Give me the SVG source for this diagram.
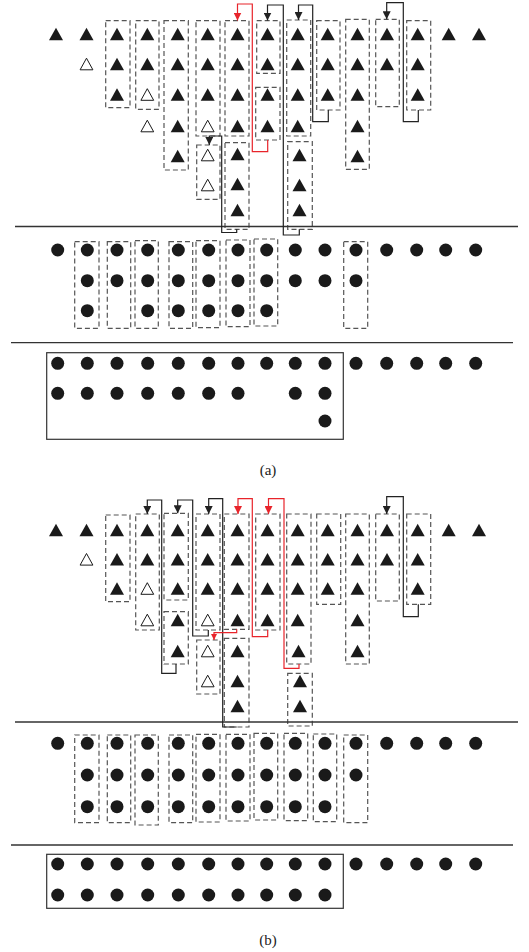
<svg xmlns="http://www.w3.org/2000/svg" xmlns:xlink="http://www.w3.org/1999/xlink" width="529" height="952" viewBox="0 0 529 952">
<style>
.tf{fill:#1a1a1a}
.th{fill:#fff;stroke:#1a1a1a;stroke-width:1}
.d{fill:#1a1a1a}
.bx{fill:none;stroke:#555;stroke-width:1.2;stroke-dasharray:5 3}
.sb{fill:none;stroke:#333;stroke-width:1.2}
.sep{stroke:#333;stroke-width:1.3}
.k{fill:none;stroke:#222;stroke-width:1.2}
.r{fill:none;stroke:#e8242b;stroke-width:1.2}
.lab{font-family:"Liberation Serif","DejaVu Serif",serif;font-size:15px;fill:#222;text-anchor:middle}
</style>
<defs>
<path id="T" d="M0,-6.3L7,6.3L-7,6.3Z"/>
<path id="H" d="M0,-5.8L6.4,5.8L-6.4,5.8Z"/>
<marker id="ak" markerUnits="userSpaceOnUse" viewBox="0 0 8 8" refX="8" refY="4" markerWidth="8" markerHeight="8" orient="auto"><path d="M0,0L8,4L0,8Z" fill="#222"/></marker>
<marker id="ar" markerUnits="userSpaceOnUse" viewBox="0 0 8 8" refX="8" refY="4" markerWidth="8" markerHeight="8" orient="auto"><path d="M0,0L8,4L0,8Z" fill="#e8242b"/></marker>
<marker id="ars" markerUnits="userSpaceOnUse" viewBox="0 0 6 6" refX="6" refY="3" markerWidth="6" markerHeight="6" orient="auto"><path d="M0,0L6,3L0,6Z" fill="#e8242b"/></marker>
</defs>

<!-- ===================== (a) ===================== -->
<g id="a-t0"><use href="#T" class="tf" x="56" y="34"/></g>
<g id="a-t1"><use href="#T" class="tf" x="86.5" y="34"/><use href="#H" class="th" x="86.5" y="64"/></g>
<g id="a-c2"><rect class="bx" x="105.7" y="20.7" width="24.3" height="87"/><use href="#T" class="tf" x="117" y="34"/><use href="#T" class="tf" x="117" y="64"/><use href="#T" class="tf" x="117" y="94.5"/></g>
<g id="a-c3"><rect class="bx" x="135.7" y="20.7" width="23.3" height="88.6"/><use href="#T" class="tf" x="147.3" y="34"/><use href="#T" class="tf" x="147.3" y="64"/><use href="#H" class="th" x="147.3" y="94.5"/></g>
<g id="a-t3"><use href="#H" class="th" x="147.3" y="126"/></g>
<g id="a-c4"><rect class="bx" x="164" y="20.7" width="24.3" height="149.3"/><use href="#T" class="tf" x="177.7" y="34"/><use href="#T" class="tf" x="177.7" y="64"/><use href="#T" class="tf" x="177.7" y="94.5"/><use href="#T" class="tf" x="177.7" y="126"/><use href="#T" class="tf" x="177.7" y="156"/></g>
<g id="a-c5u"><rect class="bx" x="196" y="20.7" width="24" height="115.3"/><use href="#T" class="tf" x="207.7" y="34"/><use href="#T" class="tf" x="207.7" y="64"/><use href="#T" class="tf" x="207.7" y="94.5"/><use href="#H" class="th" x="207.7" y="126"/></g>
<g id="a-c5l"><rect class="bx" x="196.7" y="145" width="23.3" height="54.3"/><use href="#H" class="th" x="207.7" y="155"/><use href="#H" class="th" x="207.7" y="185"/></g>
<g id="a-c6u"><rect class="bx" x="225" y="20.7" width="24" height="115.3"/><use href="#T" class="tf" x="237.5" y="34"/><use href="#T" class="tf" x="237.5" y="64"/><use href="#T" class="tf" x="237.5" y="94.5"/><use href="#T" class="tf" x="237.5" y="126"/></g>
<g id="a-c6l"><rect class="bx" x="225" y="142.7" width="24" height="86.6"/><use href="#T" class="tf" x="237.5" y="154"/><use href="#T" class="tf" x="237.5" y="184"/><use href="#T" class="tf" x="237.5" y="210"/></g>
<g id="a-c7u"><rect class="bx" x="256.7" y="20.7" width="23.3" height="52.6"/><use href="#T" class="tf" x="267.5" y="34"/><use href="#T" class="tf" x="267.5" y="64"/></g>
<g id="a-c7l"><rect class="bx" x="255.7" y="87.3" width="24.3" height="52.7"/><use href="#T" class="tf" x="267.5" y="94.5"/><use href="#T" class="tf" x="267.5" y="126"/></g>
<g id="a-c8u"><rect class="bx" x="286.7" y="20" width="24" height="116"/><use href="#T" class="tf" x="297.7" y="34"/><use href="#T" class="tf" x="297.7" y="64"/><use href="#T" class="tf" x="297.7" y="94.5"/><use href="#T" class="tf" x="297.7" y="126"/></g>
<g id="a-c8l"><rect class="bx" x="287.7" y="141.7" width="24.6" height="87.6"/><use href="#T" class="tf" x="299.5" y="155"/><use href="#T" class="tf" x="299.5" y="185"/><use href="#T" class="tf" x="299.5" y="210"/></g>
<g id="a-c9"><rect class="bx" x="316.7" y="20.7" width="23.3" height="89.3"/><use href="#T" class="tf" x="327.7" y="34"/><use href="#T" class="tf" x="327.7" y="64"/><use href="#T" class="tf" x="327.7" y="94.5"/></g>
<g id="a-c10"><rect class="bx" x="345.7" y="19.3" width="23.6" height="150"/><use href="#T" class="tf" x="357.5" y="34"/><use href="#T" class="tf" x="357.5" y="64"/><use href="#T" class="tf" x="357.5" y="94.5"/><use href="#T" class="tf" x="357.5" y="126"/><use href="#T" class="tf" x="357.5" y="156"/></g>
<g id="a-c11"><rect class="bx" x="375.7" y="19.3" width="23.6" height="87.4"/><use href="#T" class="tf" x="387" y="34"/><use href="#T" class="tf" x="387" y="64"/></g>
<g id="a-c12"><rect class="bx" x="406.7" y="20.7" width="24" height="89.3"/><use href="#T" class="tf" x="417.7" y="34"/><use href="#T" class="tf" x="417.7" y="64"/><use href="#T" class="tf" x="417.7" y="94.5"/></g>
<g id="a-t13"><use href="#T" class="tf" x="448.7" y="34"/></g>
<g id="a-t14"><use href="#T" class="tf" x="479" y="34"/></g>

<g id="a-separators">
<line class="sep" x1="15" y1="226.5" x2="518" y2="226.5"/>
<line class="sep" x1="11" y1="342.7" x2="513" y2="342.7"/>
</g>

<g id="a-m0"><circle class="d" cx="57.7" cy="250" r="6.5"/></g>
<g id="a-m1"><rect class="bx" x="74.7" y="241.7" width="24.3" height="86.6"/><circle class="d" cx="87.3" cy="250" r="6.5"/><circle class="d" cx="87.3" cy="280.7" r="6.5"/><circle class="d" cx="87.3" cy="310.7" r="6.5"/></g>
<g id="a-m2"><rect class="bx" x="107.3" y="241.7" width="23.4" height="86.6"/><circle class="d" cx="117" cy="250" r="6.5"/><circle class="d" cx="117" cy="280.7" r="6.5"/></g>
<g id="a-m3"><rect class="bx" x="135" y="240.7" width="23.3" height="87.6"/><circle class="d" cx="147.7" cy="250" r="6.5"/><circle class="d" cx="147.7" cy="280.7" r="6.5"/><circle class="d" cx="147.7" cy="310.7" r="6.5"/></g>
<g id="a-m4"><rect class="bx" x="169" y="241.7" width="23.7" height="86.6"/><circle class="d" cx="178.3" cy="250" r="6.5"/><circle class="d" cx="178.3" cy="280.7" r="6.5"/><circle class="d" cx="178.3" cy="310.7" r="6.5"/></g>
<g id="a-m5"><rect class="bx" x="196" y="240.7" width="24" height="87"/><circle class="d" cx="208.7" cy="250" r="6.5"/><circle class="d" cx="208.7" cy="280.7" r="6.5"/><circle class="d" cx="208.7" cy="310.7" r="6.5"/></g>
<g id="a-m6"><rect class="bx" x="226" y="240" width="24" height="86.7"/><circle class="d" cx="238" cy="250" r="6.5"/><circle class="d" cx="238" cy="280.7" r="6.5"/><circle class="d" cx="238" cy="310.7" r="6.5"/></g>
<g id="a-m7"><rect class="bx" x="254" y="239" width="23.7" height="87"/><circle class="d" cx="266.7" cy="250" r="6.5"/><circle class="d" cx="266.7" cy="280.7" r="6.5"/><circle class="d" cx="266.7" cy="310.7" r="6.5"/></g>
<g id="a-m8"><circle class="d" cx="295.3" cy="250" r="6.5"/><circle class="d" cx="295.3" cy="280.7" r="6.5"/></g>
<g id="a-m9"><circle class="d" cx="325" cy="250" r="6.5"/><circle class="d" cx="325" cy="280.7" r="6.5"/></g>
<g id="a-m10"><rect class="bx" x="343.7" y="241.7" width="24" height="86.6"/><circle class="d" cx="356" cy="250" r="6.5"/><circle class="d" cx="356" cy="280.7" r="6.5"/></g>
<g id="a-m11"><circle class="d" cx="386.7" cy="250" r="6.5"/></g>
<g id="a-m12"><circle class="d" cx="416.7" cy="250" r="6.5"/></g>
<g id="a-m13"><circle class="d" cx="445.7" cy="250" r="6.5"/></g>
<g id="a-m14"><circle class="d" cx="475.7" cy="250" r="6.5"/></g>

<g id="a-store">
<rect class="sb" x="46.7" y="352.7" width="296.6" height="86.6"/>
<circle class="d" cx="57.7" cy="363.3" r="6.5"/><circle class="d" cx="87.3" cy="363.3" r="6.5"/><circle class="d" cx="117" cy="363.3" r="6.5"/><circle class="d" cx="147.7" cy="363.3" r="6.5"/><circle class="d" cx="178.3" cy="363.3" r="6.5"/><circle class="d" cx="208.7" cy="363.3" r="6.5"/><circle class="d" cx="238" cy="363.3" r="6.5"/><circle class="d" cx="266.7" cy="363.3" r="6.5"/><circle class="d" cx="295.3" cy="363.3" r="6.5"/><circle class="d" cx="325" cy="363.3" r="6.5"/>
<circle class="d" cx="57.7" cy="393.3" r="6.5"/><circle class="d" cx="87.3" cy="393.3" r="6.5"/><circle class="d" cx="117" cy="393.3" r="6.5"/><circle class="d" cx="147.7" cy="393.3" r="6.5"/><circle class="d" cx="178.3" cy="393.3" r="6.5"/><circle class="d" cx="208.7" cy="393.3" r="6.5"/><circle class="d" cx="238" cy="393.3" r="6.5"/><circle class="d" cx="295.3" cy="393.3" r="6.5"/><circle class="d" cx="325" cy="393.3" r="6.5"/>
<circle class="d" cx="325" cy="421" r="6.5"/>
</g>
<g id="a-rest"><circle class="d" cx="356" cy="363.3" r="6.5"/><circle class="d" cx="386.7" cy="363.3" r="6.5"/><circle class="d" cx="416.7" cy="363.3" r="6.5"/><circle class="d" cx="445.7" cy="363.3" r="6.5"/><circle class="d" cx="475.7" cy="363.3" r="6.5"/></g>

<g id="a-connectors">
<path class="k" d="M236.7,229.3V232.5H221.7V136H209.3V145" marker-end="url(#ak)"/>
<path class="r" d="M267.7,140V151.7H252.3V4H237.5V20.5" marker-end="url(#ar)"/>
<path class="k" d="M299.3,229.3V235H283.3V5H267.5V20.5" marker-end="url(#ak)"/>
<path class="k" d="M328.3,110V121.7H312.7V5H298.5V20" marker-end="url(#ak)"/>
<path class="k" d="M418.3,110V121.7H403.3V2.7H386.7V19.3" marker-end="url(#ak)"/>
</g>

<text class="lab" x="268" y="475">(a)</text>

<!-- ===================== (b) ===================== -->
<g id="b-t0"><use href="#T" class="tf" x="56" y="530"/></g>
<g id="b-t1"><use href="#T" class="tf" x="86.5" y="530"/><use href="#H" class="th" x="86.5" y="559.3"/></g>
<g id="b-c2"><rect class="bx" x="105.7" y="515" width="24.3" height="86.7"/><use href="#T" class="tf" x="117" y="530"/><use href="#T" class="tf" x="117" y="559.3"/><use href="#T" class="tf" x="117" y="588.5"/></g>
<g id="b-c3"><rect class="bx" x="135.7" y="514" width="23.6" height="116"/><use href="#T" class="tf" x="147.3" y="530"/><use href="#T" class="tf" x="147.3" y="559.3"/><use href="#H" class="th" x="147.3" y="588.5"/><use href="#H" class="th" x="147.3" y="620"/></g>
<g id="b-c4u"><rect class="bx" x="164" y="513.3" width="24.3" height="86.7"/><use href="#T" class="tf" x="177.7" y="530"/><use href="#T" class="tf" x="177.7" y="559.3"/><use href="#T" class="tf" x="177.7" y="588.5"/></g>
<g id="b-c4l"><rect class="bx" x="164" y="611.7" width="24.3" height="52.3"/><use href="#T" class="tf" x="177.7" y="620"/><use href="#T" class="tf" x="177.7" y="651"/></g>
<g id="b-c5u"><rect class="bx" x="196" y="514" width="24" height="116"/><use href="#T" class="tf" x="207.7" y="530"/><use href="#T" class="tf" x="207.7" y="559.3"/><use href="#T" class="tf" x="207.7" y="588.5"/><use href="#H" class="th" x="207.7" y="620"/></g>
<g id="b-c5l"><rect class="bx" x="196.7" y="640" width="23.3" height="54"/><use href="#H" class="th" x="207.7" y="651"/><use href="#H" class="th" x="207.7" y="681"/></g>
<g id="b-c6u"><rect class="bx" x="224.3" y="514" width="24.7" height="115.3"/><use href="#T" class="tf" x="237.5" y="530"/><use href="#T" class="tf" x="237.5" y="559.3"/><use href="#T" class="tf" x="237.5" y="588.5"/><use href="#T" class="tf" x="237.5" y="620"/></g>
<g id="b-c6l"><rect class="bx" x="224.3" y="638.3" width="24.7" height="88.7"/><use href="#T" class="tf" x="237.5" y="651"/><use href="#T" class="tf" x="237.5" y="681"/><use href="#T" class="tf" x="237.5" y="706"/></g>
<g id="b-c7"><rect class="bx" x="255.7" y="514" width="24.3" height="116"/><use href="#T" class="tf" x="267.5" y="530"/><use href="#T" class="tf" x="267.5" y="559.3"/><use href="#T" class="tf" x="267.5" y="588.5"/><use href="#T" class="tf" x="267.5" y="620"/></g>
<g id="b-c8u"><rect class="bx" x="286.7" y="514" width="24.3" height="150"/><use href="#T" class="tf" x="297.7" y="530"/><use href="#T" class="tf" x="297.7" y="559.3"/><use href="#T" class="tf" x="297.7" y="588.5"/><use href="#T" class="tf" x="297.7" y="620"/><use href="#T" class="tf" x="298.5" y="651"/></g>
<g id="b-c8l"><rect class="bx" x="287.7" y="673.3" width="24.6" height="52.7"/><use href="#T" class="tf" x="300" y="681"/><use href="#T" class="tf" x="300" y="706"/></g>
<g id="b-c9"><rect class="bx" x="316.7" y="514" width="24" height="90.3"/><use href="#T" class="tf" x="327.7" y="530"/><use href="#T" class="tf" x="327.7" y="559.3"/><use href="#T" class="tf" x="327.7" y="588.5"/></g>
<g id="b-c10"><rect class="bx" x="345.7" y="514" width="23.6" height="150"/><use href="#T" class="tf" x="357.5" y="530"/><use href="#T" class="tf" x="357.5" y="559.3"/><use href="#T" class="tf" x="357.5" y="588.5"/><use href="#T" class="tf" x="357.5" y="620"/><use href="#T" class="tf" x="357.5" y="651"/></g>
<g id="b-c11"><rect class="bx" x="375.7" y="514" width="23.6" height="87"/><use href="#T" class="tf" x="387" y="530"/><use href="#T" class="tf" x="387" y="559.3"/></g>
<g id="b-c12"><rect class="bx" x="406.7" y="514" width="24" height="90.3"/><use href="#T" class="tf" x="417.7" y="530"/><use href="#T" class="tf" x="417.7" y="559.3"/><use href="#T" class="tf" x="417.7" y="588.5"/></g>
<g id="b-t13"><use href="#T" class="tf" x="448.7" y="530"/></g>
<g id="b-t14"><use href="#T" class="tf" x="479" y="530"/></g>

<g id="b-separators">
<line class="sep" x1="15" y1="722" x2="518" y2="722"/>
<line class="sep" x1="11" y1="845" x2="513" y2="845"/>
</g>

<g id="b-m0"><circle class="d" cx="57.7" cy="743.3" r="6.5"/></g>
<g id="b-m1"><rect class="bx" x="74.7" y="735" width="24.3" height="87.7"/><circle class="d" cx="87.3" cy="743.3" r="6.5"/><circle class="d" cx="87.3" cy="775" r="6.5"/><circle class="d" cx="87.3" cy="806.7" r="6.5"/></g>
<g id="b-m2"><rect class="bx" x="107.3" y="735" width="23.4" height="87.7"/><circle class="d" cx="117" cy="743.3" r="6.5"/><circle class="d" cx="117" cy="775" r="6.5"/><circle class="d" cx="117" cy="806.7" r="6.5"/></g>
<g id="b-m3"><rect class="bx" x="135" y="735" width="23.3" height="90"/><circle class="d" cx="147.7" cy="743.3" r="6.5"/><circle class="d" cx="147.7" cy="775" r="6.5"/><circle class="d" cx="147.7" cy="806.7" r="6.5"/></g>
<g id="b-m4"><rect class="bx" x="169" y="735" width="23.7" height="87.7"/><circle class="d" cx="178.3" cy="743.3" r="6.5"/><circle class="d" cx="178.3" cy="775" r="6.5"/><circle class="d" cx="178.3" cy="806.7" r="6.5"/></g>
<g id="b-m5"><rect class="bx" x="196" y="734.3" width="24" height="87.7"/><circle class="d" cx="208.7" cy="743.3" r="6.5"/><circle class="d" cx="208.7" cy="775" r="6.5"/><circle class="d" cx="208.7" cy="806.7" r="6.5"/></g>
<g id="b-m6"><rect class="bx" x="226" y="734.3" width="24" height="86.7"/><circle class="d" cx="238" cy="743.3" r="6.5"/><circle class="d" cx="238" cy="775" r="6.5"/><circle class="d" cx="238" cy="806.7" r="6.5"/></g>
<g id="b-m7"><rect class="bx" x="254" y="733.3" width="23.7" height="86.7"/><circle class="d" cx="266.7" cy="743.3" r="6.5"/><circle class="d" cx="266.7" cy="775" r="6.5"/><circle class="d" cx="266.7" cy="806.7" r="6.5"/></g>
<g id="b-m8"><rect class="bx" x="284" y="733.3" width="23.7" height="87.4"/><circle class="d" cx="295.3" cy="743.3" r="6.5"/><circle class="d" cx="295.3" cy="775" r="6.5"/><circle class="d" cx="295.3" cy="806.7" r="6.5"/></g>
<g id="b-m9"><rect class="bx" x="313.3" y="734" width="23.4" height="87.7"/><circle class="d" cx="325" cy="743.3" r="6.5"/><circle class="d" cx="325" cy="775" r="6.5"/><circle class="d" cx="325" cy="806.7" r="6.5"/></g>
<g id="b-m10"><rect class="bx" x="343.7" y="735" width="24" height="87.7"/><circle class="d" cx="356" cy="743.3" r="6.5"/><circle class="d" cx="356" cy="775" r="6.5"/></g>
<g id="b-m11"><circle class="d" cx="386.7" cy="743.3" r="6.5"/></g>
<g id="b-m12"><circle class="d" cx="416.7" cy="743.3" r="6.5"/></g>
<g id="b-m13"><circle class="d" cx="445.7" cy="743.3" r="6.5"/></g>
<g id="b-m14"><circle class="d" cx="475.7" cy="743.3" r="6.5"/></g>

<g id="b-store">
<rect class="sb" x="46.7" y="854.3" width="296.6" height="54"/>
<circle class="d" cx="57.7" cy="864" r="6.5"/><circle class="d" cx="87.3" cy="864" r="6.5"/><circle class="d" cx="117" cy="864" r="6.5"/><circle class="d" cx="147.7" cy="864" r="6.5"/><circle class="d" cx="178.3" cy="864" r="6.5"/><circle class="d" cx="208.7" cy="864" r="6.5"/><circle class="d" cx="238" cy="864" r="6.5"/><circle class="d" cx="266.7" cy="864" r="6.5"/><circle class="d" cx="295.3" cy="864" r="6.5"/><circle class="d" cx="325" cy="864" r="6.5"/>
<circle class="d" cx="57.7" cy="895" r="6.5"/><circle class="d" cx="87.3" cy="895" r="6.5"/><circle class="d" cx="117" cy="895" r="6.5"/><circle class="d" cx="147.7" cy="895" r="6.5"/><circle class="d" cx="178.3" cy="895" r="6.5"/><circle class="d" cx="208.7" cy="895" r="6.5"/><circle class="d" cx="238" cy="895" r="6.5"/><circle class="d" cx="266.7" cy="895" r="6.5"/><circle class="d" cx="295.3" cy="895" r="6.5"/><circle class="d" cx="325" cy="895" r="6.5"/>
</g>
<g id="b-rest"><circle class="d" cx="356" cy="864" r="6.5"/><circle class="d" cx="386.7" cy="864" r="6.5"/><circle class="d" cx="416.7" cy="864" r="6.5"/><circle class="d" cx="445.7" cy="864" r="6.5"/><circle class="d" cx="475.7" cy="864" r="6.5"/></g>

<g id="b-connectors">
<path class="k" d="M176,664V673.3H161.7V500H147.3V514" marker-end="url(#ak)"/>
<path class="k" d="M208.3,630V636H192.7V500H177.7V513.3" marker-end="url(#ak)"/>
<path class="k" d="M236.7,727H222.7V498.7H208.7V514" marker-end="url(#ak)"/>
<path class="r" d="M236.7,629.3V632.7H214V640" marker-end="url(#ars)"/>
<path class="r" d="M267.7,630V636.7H252.3V498.7H238V514" marker-end="url(#ar)"/>
<path class="r" d="M299,664V668.3H284V498.7H268.5V514" marker-end="url(#ar)"/>
<path class="k" d="M418.3,604.3V616.7H403.3V496.7H386.7V514" marker-end="url(#ak)"/>
</g>

<text class="lab" x="268" y="945">(b)</text>
</svg>
